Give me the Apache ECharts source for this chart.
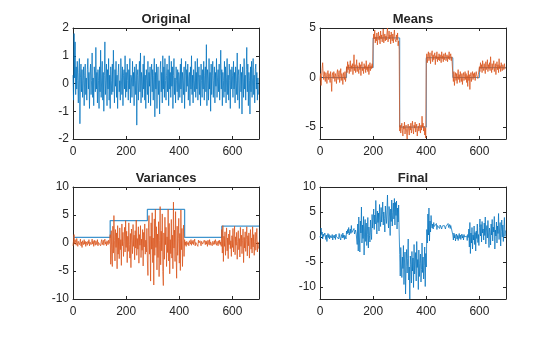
<!DOCTYPE html>
<html>
<head>
<meta charset="utf-8">
<script src="https://cdn.jsdelivr.net/npm/echarts@6/dist/echarts.min.js"></script>
<style>html,body{margin:0;padding:0;background:#fff}#c{width:560px;height:337px}</style>
</head>
<body>
<div id="c"></div>
<script>
// sample spacing of the signals (x = index * sampleStep)
const sampleStep = 2;
const xTicks = [0, 200, 400, 600];

const titles = ['Original', 'Means', 'Variances', 'Final'];

const original = [
0.3,-0.6,1.8,0.2,1.5,-0.4,0.6,-0.2,0.8,0.1,-0.7,0.4,0.9,-1.45,0.2,0.7,-0.3,0.5,-0.5,0.1,0.6,-0.8,0.3,0.7,-0.4,
0.2,-0.6,0.5,0.9,-0.2,0.4,-0.9,0.3,0.7,-0.4,0.1,1.1,-0.5,0.2,-0.8,0.6,0.3,-0.3,1.3,-0.2,0.4,-0.7,0.5,0.1,-0.9,
0.6,-0.3,1.2,-0.5,0.2,0.8,-0.6,0.4,-1.0,0.3,1.5,-0.4,0.1,0.7,-0.8,0.5,-0.2,0.9,-0.6,0.3,-0.9,0.6,0.1,-0.4,0.7,
-0.3,1.2,0.2,-0.7,0.5,-0.1,0.8,-0.5,0.3,-0.9,0.4,0.7,-0.3,0.1,-0.6,0.9,0.2,-0.4,0.6,-0.8,0.3,0.5,-0.2,1.0,-0.5,
0.4,-0.3,0.7,0.1,-0.6,0.5,-0.2,0.9,-0.7,0.3,0.2,-0.5,0.8,-0.1,0.4,-0.8,0.6,0.1,-0.4,0.7,-1.5,0.3,0.5,-0.6,0.2,
0.8,-0.3,1.1,-0.7,0.4,0.2,-0.5,0.7,-0.2,1.0,-0.6,0.3,-0.9,0.5,0.1,-0.4,0.8,-0.7,0.4,-0.1,0.6,-0.8,0.2,0.7,-0.3,
0.5,-0.6,0.3,0.9,-1.2,0.4,-0.2,0.7,-0.9,0.2,0.6,-0.4,0.1,-1.1,0.5,0.8,-0.3,0.4,-0.7,1.0,-0.2,0.6,-0.5,0.9,0.1,
-0.6,0.3,0.7,-0.3,0.5,-0.8,1.0,-0.2,0.4,-0.5,0.8,-0.1,0.6,-0.9,0.3,0.9,-0.4,0.2,-0.7,0.6,0.1,-0.3,0.5,-0.6,0.4,
0.2,-0.5,0.7,-0.2,0.9,-0.7,0.4,0.1,-0.4,0.6,-0.9,0.3,0.8,-0.3,0.5,-0.1,0.7,-0.6,0.2,0.4,-0.8,0.6,-0.2,1.0,-0.4,
0.3,-0.7,0.5,0.1,-0.3,0.8,-0.5,0.4,-0.2,0.9,-0.6,0.2,0.6,-0.4,0.3,-0.8,0.7,0.1,-0.5,0.5,-0.2,0.8,-0.6,0.3,0.6,
-0.3,1.4,-0.8,0.5,0.2,-0.6,0.9,-0.2,0.4,-1.0,0.7,-0.4,0.3,0.8,-0.5,0.1,0.6,-0.7,0.4,-0.1,0.9,-0.5,0.2,0.5,-0.3,
0.7,-0.6,0.3,1.2,-0.2,0.5,-0.8,0.4,0.1,-0.5,0.8,-0.3,0.6,-0.7,0.2,0.9,-0.4,0.3,-0.6,0.7,0.1,-0.9,0.5,-0.2,0.6,
0.3,-0.5,0.8,-0.2,0.4,-0.7,0.6,0.1,-0.4,1.1,-0.6,0.3,0.5,-0.9,0.2,0.7,-0.3,0.4,-1.1,0.6,0.2,-0.5,0.9,-0.2,0.3,
-0.6,0.5,1.3,-0.3,0.7,-0.8,0.4,0.1,-1.1,0.6,-0.3,0.8,-0.5,0.2,0.9,-0.4,0.3,-0.7,0.5,0.7,-0.2,0.4,-0.6,0.2,-0.4
];

const meanBreaks = [0, 100, 200, 300, 400, 500, 600, 700];
const meanLevels = [0, 1, 4, -5, 2, 0, 1];

const means = [
-0.3,0.4,-0.8,0.2,0.9,1.5,0.3,-0.2,0.6,0.1,-0.4,0.5,0.2,-0.6,0.3,0.7,-0.2,0.4,0.1,-0.5,0.6,-0.3,-1.4,0.2,0.5,
-0.1,0.6,0.2,-0.4,0.4,0.1,-0.6,0.5,0.8,-0.2,0.3,0.7,-0.5,0.2,0.9,-0.3,0.4,0.1,-0.7,0.5,0.3,-0.2,0.6,-0.4,0.1,
1.1,0.5,1.6,0.8,1.3,0.4,1.0,1.7,0.6,1.2,0.9,1.4,0.3,1.1,2.3,0.7,1.3,0.5,1.0,1.8,0.6,1.2,0.9,0.4,1.5,
0.8,1.3,0.2,1.1,1.6,0.7,1.0,0.4,1.4,0.9,1.2,0.5,1.7,0.8,1.1,0.6,1.3,0.3,1.0,1.5,0.7,1.2,0.9,1.4,1.0,
3.6,4.4,3.9,4.8,3.5,4.1,3.7,4.5,3.3,4.0,4.6,3.8,4.2,3.4,4.7,3.9,4.3,3.6,4.1,4.9,3.5,4.0,4.4,3.7,4.2,
3.8,4.5,5.0,3.6,4.1,4.7,3.9,4.3,3.4,4.6,4.0,3.7,4.4,3.5,4.2,4.8,3.9,4.1,3.6,4.3,3.8,4.5,3.2,3.7,2.8,
-5.4,-4.8,-5.6,-5.0,-4.6,-5.3,-5.9,-4.9,-5.2,-4.5,-5.7,-5.1,-4.8,-5.5,-6.2,-5.0,-4.7,-5.4,-5.8,-4.9,-5.3,-4.6,-5.6,-5.0,-4.4,
-5.2,-5.7,-4.8,-5.1,-4.5,-5.5,-5.0,-4.7,-5.9,-5.2,-4.9,-5.4,-4.6,-5.1,-5.6,-4.8,-5.3,-3.9,-5.0,-4.6,-5.4,-4.9,-5.8,-5.1,-6.1,
1.8,2.4,1.5,2.2,2.6,1.7,2.0,2.5,1.4,2.1,1.9,2.7,1.6,2.3,1.8,2.0,2.5,1.3,2.2,1.9,2.6,1.6,2.1,1.8,2.4,
1.7,2.3,2.0,1.5,2.6,1.9,2.2,1.6,2.4,1.8,2.1,2.5,1.7,2.0,2.3,1.6,2.2,1.9,2.6,1.8,2.0,2.4,1.7,2.1,1.9,
0.3,-0.4,0.6,-0.8,0.1,0.5,-0.3,0.4,-0.6,0.2,0.8,-0.2,0.3,-0.5,0.6,0.0,-0.4,0.4,-0.7,0.2,0.5,-0.3,0.1,0.6,-0.2,
0.4,-0.5,0.2,-0.9,0.7,-0.3,0.3,-1.2,0.1,0.5,-0.4,0.2,0.6,-0.2,0.4,0.0,0.5,-0.3,0.3,0.6,0.2,0.4,-0.1,0.3,0.5,
1.1,0.6,1.5,0.9,1.3,0.5,1.7,1.0,0.7,1.4,1.2,0.4,1.6,0.8,1.1,1.8,0.6,1.3,0.9,1.5,0.7,2.1,1.0,0.5,1.4,
0.8,1.2,1.7,0.6,1.0,1.4,0.3,1.1,1.6,0.8,1.3,0.5,1.9,0.9,1.2,0.6,1.5,1.0,0.7,1.3,1.1,0.8,1.4,0.9,1.0
];

const varBreaks = [0, 140, 280, 420, 560, 700];
const varLevels = [1, 4, 6, 1, 3];

const variances = [
-0.5,0.4,1.5,-0.2,0.6,0.1,-0.4,0.8,0.2,-0.6,0.3,0.5,-0.3,0.1,0.7,-0.5,0.2,-0.8,0.4,0.1,-0.3,0.6,-0.2,0.3,-0.6,
0.2,0.5,-0.4,0.3,-0.1,0.6,-0.5,0.2,0.4,-0.3,0.1,0.7,-0.2,0.3,-0.6,0.5,0.0,-0.4,0.4,0.2,-0.3,0.6,-0.5,0.1,0.3,
-0.2,0.4,-0.5,0.2,0.6,-0.3,0.1,0.5,-0.4,0.3,0.7,-0.2,0.2,-0.5,0.4,0.1,-0.3,0.5,-0.1,0.3,1.5,-3.8,2.2,-2.5,-4.2,
3.0,-1.8,4.9,0.5,-3.2,2.4,-0.8,1.8,-4.6,3.1,-2.0,0.9,-2.8,2.7,-1.2,0.6,-4.0,3.4,-0.5,1.9,-2.4,0.3,2.8,-1.6,4.0,
-0.8,2.1,-3.5,1.2,-1.5,3.6,-0.3,-2.7,1.7,-4.4,2.5,0.4,-1.9,3.3,-0.6,1.4,-3.0,2.2,-0.9,4.1,-2.2,0.8,-1.1,2.9,-3.6,
1.5,-0.4,3.1,-2.6,0.7,-1.3,2.4,-4.1,1.9,-0.7,3.4,-2.0,0.5,-1.6,2.6,-3.2,-5.8,2.7,4.9,-2.0,1.2,-6.8,3.6,-1.1,5.4,
-3.5,0.9,-7.5,4.3,-2.2,6.0,-0.8,2.9,-4.8,1.6,-2.6,3.8,-6.0,0.5,6.5,-3.9,2.1,-1.4,5.2,-5.1,-7.6,1.8,-2.9,4.6,-0.3,
2.8,-4.2,1.1,-1.7,6.0,-3.2,3.5,-5.5,0.6,-1.9,4.2,-2.7,1.4,-4.6,7.3,-0.9,2.3,-3.3,5.6,-1.5,-6.3,3.0,-2.2,0.8,4.4,
-3.6,1.7,-4.9,5.9,-1.2,2.6,-4.2,0.4,3.2,-2.4,0.6,-0.4,0.2,-0.6,0.3,0.5,-0.3,0.1,-0.5,0.4,0.2,-0.2,0.6,-0.4,0.3,
-0.1,0.5,-0.3,0.2,0.7,-0.5,0.1,0.4,-0.2,0.3,-0.6,0.5,0.0,-0.3,0.4,0.2,-0.5,0.3,0.6,-0.2,0.1,-0.4,0.5,0.2,-0.3,
0.4,-0.2,0.3,-0.6,0.5,0.1,-0.3,0.6,-0.4,0.2,-0.1,0.5,-0.5,0.3,0.1,-0.3,0.4,-0.2,0.6,0.0,-0.4,0.3,0.2,-0.5,0.4,
-0.1,0.5,-0.3,0.2,-0.6,2.4,-1.8,3.1,-3.3,1.2,-0.6,2.0,-2.2,0.5,2.7,-1.4,0.9,-2.8,1.6,-0.3,2.3,-1.0,0.4,-2.4,1.3,
-0.8,2.6,-1.6,0.7,3.0,-2.1,1.1,-0.4,1.9,-2.9,0.3,2.2,-1.2,0.8,-2.5,2.8,-0.6,1.4,-1.9,0.5,2.5,-3.5,1.0,-0.9,2.0,
-1.5,0.6,2.9,-2.3,1.3,-0.5,1.8,-2.7,0.4,2.4,-1.1,0.9,-1.8,2.9,-0.7,1.5,-2.2,0.3,1.9,-1.3,0.7,2.6,-1.6,0.2,-1.0
];

const final = [
0.2,-0.3,1.8,0.5,1.0,-0.4,0.6,0.1,-0.2,0.8,0.3,-0.5,0.4,-0.9,0.2,0.7,-0.1,0.5,-0.4,0.3,0.6,-0.2,0.1,0.5,-0.6,
0.3,0.7,-0.2,0.4,-0.5,0.6,0.1,-0.3,0.5,0.2,-0.4,0.7,0.0,0.3,-0.6,0.5,0.2,-0.2,0.8,-0.1,0.4,-0.5,0.3,0.1,-0.4,
1.2,0.6,1.5,0.8,1.9,0.4,1.1,1.6,0.7,2.3,0.9,1.3,0.5,1.2,1.7,0.6,1.0,1.4,0.8,1.2,-1.5,2.6,-2.8,4.0,0.2,
-3.0,3.2,0.8,6.0,-1.2,2.4,-0.3,4.1,-3.6,1.6,3.5,-0.9,2.8,-1.7,0.5,3.9,-2.2,2.0,0.3,-1.0,3.4,0.9,-0.5,4.5,1.8,
3.2,5.6,1.5,4.4,2.6,7.3,3.8,0.6,5.2,2.9,4.8,1.2,6.5,3.5,2.1,5.9,3.0,4.5,7.0,2.4,5.0,3.7,1.0,6.2,4.0,
2.7,5.4,8.4,3.3,1.8,6.1,4.2,0.3,5.6,3.1,7.4,2.2,4.9,6.8,3.6,7.7,2.4,6.9,4.3,7.2,1.6,5.8,3.0,6.4,0.8,
-3.5,-7.8,-2.1,-5.6,-8.1,-4.0,-6.3,-1.7,-9.5,-4.8,-3.0,-11.4,-5.9,-2.5,-7.2,-4.3,-0.4,-8.6,-6.0,-12.4,-3.8,-5.5,-9.2,-2.9,-6.8,
-4.2,-10.1,-1.5,-7.4,-5.0,-3.1,-8.8,-0.9,-6.1,-4.5,-10.5,-2.6,-7.9,-5.3,-3.4,-9.0,-6.5,-1.2,-7.1,-4.0,-8.4,-5.7,-2.0,-9.9,-3.3,
-6.0,1.5,-1.2,4.6,0.4,5.8,-0.8,3.2,1.0,4.3,2.4,1.8,2.6,1.6,2.9,2.1,1.7,2.5,2.0,2.7,1.5,2.3,1.9,2.6,2.1,
1.7,2.4,2.0,2.8,1.6,2.2,1.9,2.5,1.8,2.3,2.6,1.6,2.1,2.4,1.8,2.2,2.7,1.9,2.0,2.5,1.7,2.3,2.1,2.6,2.0,
0.4,-0.6,0.8,-0.2,0.5,-0.8,0.1,0.6,-0.4,0.3,-0.7,0.2,0.7,-0.3,0.4,-0.5,0.1,0.6,-0.2,0.3,-0.6,0.5,0.0,-0.3,0.4,
-0.4,0.2,-0.7,0.5,-0.1,1.6,-2.0,2.9,-3.3,0.8,-1.2,1.9,-2.4,0.4,-0.6,2.2,-1.5,0.9,-2.8,1.2,-0.3,2.6,-1.1,0.5,-1.7,
1.9,3.6,0.2,2.5,-1.0,3.1,0.8,1.6,-0.6,2.8,0.3,4.0,-1.4,1.2,2.3,-0.2,3.3,0.6,-2.1,1.8,0.9,-1.6,2.6,0.4,3.5,
-0.8,2.0,1.0,4.1,-2.4,1.4,0.2,3.0,-1.2,2.2,0.7,4.7,-0.5,1.6,2.9,-1.8,1.1,3.4,0.0,2.4,-0.9,1.5,3.9,0.1,1.3
];

// axis ranges and tick labels per panel
const yRanges = [[-2, 2], [-6.2, 5], [-10, 10], [-12.4, 10]];
const yTicks = [[-2, -1, 0, 1, 2], [-5, 0, 5], [-10, -5, 0, 5, 10], [-10, -5, 0, 5, 10]];

const BLUE = '#0072BD', ORANGE = '#D95319', AX = '#262626';
const FONT = '"Liberation Sans", Arial, Helvetica, sans-serif';

function pts(arr) { return arr.map((v, i) => [i * sampleStep, v]); }
function steps(breaks, levels) {
  const d = levels.map((l, i) => [breaks[i], l]);
  d.push([breaks[breaks.length - 1], levels[levels.length - 1]]);
  return d;
}

const gridPos = [
  {left: 73, top: 28, width: 186, height: 111},
  {left: 320, top: 28, width: 186, height: 111},
  {left: 73, top: 187, width: 186, height: 112},
  {left: 320, top: 187, width: 186, height: 112}
];

const grid = [], xAxis = [], yAxis = [], title = [];
gridPos.forEach((g, k) => {
  grid.push(Object.assign({containLabel: false}, g));
  title.push({text: titles[k], left: g.left + g.width / 2, top: g.top - 15, textAlign: 'center', padding: 0,
    textStyle: {fontFamily: FONT, fontSize: 13, fontWeight: 'bold', color: AX}});
  const axLine = {show: true, onZero: false, lineStyle: {color: AX, width: 1}};
  const tick = (vals) => ({show: true, inside: true, length: 3, customValues: vals, lineStyle: {color: AX, width: 1}});
  xAxis.push({gridIndex: k, type: 'value', position: 'bottom', min: 0, max: 700,
    axisLine: axLine, axisTick: tick(xTicks), splitLine: {show: false},
    axisLabel: {customValues: xTicks, margin: 7, color: AX, fontFamily: FONT, fontSize: 12}});
  xAxis.push({gridIndex: k, type: 'value', position: 'top', min: 0, max: 700,
    axisLine: axLine, axisTick: tick(xTicks), splitLine: {show: false}, axisLabel: {show: false}});
  yAxis.push({gridIndex: k, type: 'value', position: 'left', min: yRanges[k][0], max: yRanges[k][1],
    axisLine: axLine, axisTick: tick(yTicks[k]), splitLine: {show: false},
    axisLabel: {customValues: yTicks[k], margin: 4, color: AX, fontFamily: FONT, fontSize: 12}});
  yAxis.push({gridIndex: k, type: 'value', position: 'right', min: yRanges[k][0], max: yRanges[k][1],
    axisLine: axLine, axisTick: tick(yTicks[k]), splitLine: {show: false}, axisLabel: {show: false}});
});

function line(k, data, color, extra) {
  return Object.assign({type: 'line', xAxisIndex: 2 * k, yAxisIndex: 2 * k, data: data,
    showSymbol: false, symbol: 'none', clip: true, animation: false,
    lineStyle: {color: color, width: 0.75}, itemStyle: {color: color}}, extra || {});
}

const series = [
  line(0, pts(original), BLUE),
  line(1, steps(meanBreaks, meanLevels), BLUE, {step: 'end'}),
  line(1, pts(means), ORANGE),
  line(2, steps(varBreaks, varLevels), BLUE, {step: 'end', lineStyle: {color: BLUE, width: 1.3, opacity: 0.75}}),
  line(2, pts(variances), ORANGE),
  line(3, pts(final), BLUE)
];

const chart = echarts.init(document.getElementById('c'), null, {renderer: 'canvas'});
chart.setOption({animation: false, backgroundColor: '#fff', title, grid, xAxis, yAxis, series});
</script>
</body>
</html>
